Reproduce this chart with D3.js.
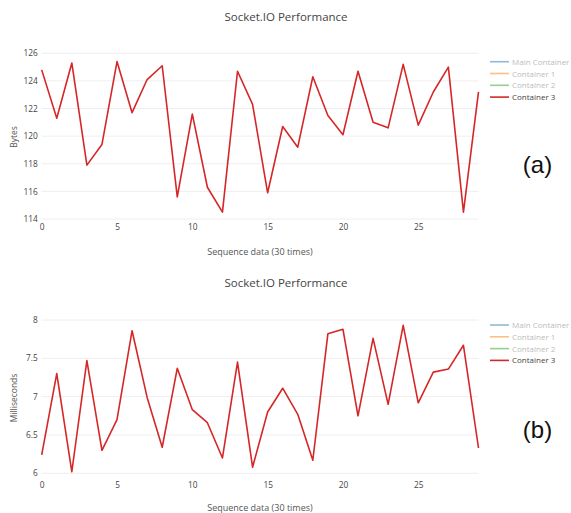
<!DOCTYPE html>
<html>
<head>
<meta charset="utf-8">
<script src="https://cdn.jsdelivr.net/npm/d3@7"></script>
<style>
  html, body { margin: 0; padding: 0; background: #fff; }
  svg { display: block; font-family: "Open Sans", "DejaVu Sans", sans-serif; }
</style>
</head>
<body>
<svg id="chart" width="571" height="513"></svg>
<script>
// ---------- data ----------
const sequence = [0,1,2,3,4,5,6,7,8,9,10,11,12,13,14,15,16,17,18,19,20,21,22,23,24,25,26,27,28,29];
const bytesContainer3 = [124.8,121.3,125.3,117.9,119.4,125.4,121.7,124.1,125.1,115.6,
                         121.6,116.3,114.5,124.7,122.3,115.9,120.7,119.2,124.3,121.5,
                         120.1,124.7,121.0,120.6,125.2,120.8,123.2,125.0,114.5,123.2];
const msContainer3 = [6.24,7.30,6.02,7.47,6.30,6.70,7.86,6.99,6.34,7.37,
                      6.83,6.66,6.20,7.45,6.08,6.80,7.11,6.77,6.17,7.82,
                      7.88,6.75,7.76,6.90,7.93,6.92,7.32,7.36,7.67,6.33];
const seriesNames = ["Main Container", "Container 1", "Container 2", "Container 3"];
const seriesColors = ["#1f77b4", "#ff7f0e", "#2ca02c", "#d62728"];
const seriesVisible = [false, false, false, true];
const xTicks = [0, 5, 10, 15, 20, 25];
const bytesTicks = [114, 116, 118, 120, 122, 124, 126];
const msTicks = [6, 6.5, 7, 7.5, 8];
const chartTitle = "Socket.IO Performance";
const xTitle = "Sequence data (30 times)";
const panelLabels = ["(a)", "(b)"];

const svg = d3.select("#chart");

function drawPanel(o) {
  const g = svg.append("g");
  const x = d3.scaleLinear().domain([0, 29]).range([41.7, 478.5]);
  const y = d3.scaleLinear().domain(o.yDomain).range(o.yRange);

  // gridlines
  g.append("g").selectAll("line").data(o.yTicks).join("line")
    .attr("x1", x(0)).attr("x2", x(29))
    .attr("y1", d => y(d)).attr("y2", d => y(d))
    .attr("stroke", "#eeeeee").attr("stroke-width", 1);

  // y axis
  const yAxis = d3.axisLeft(y).tickValues(o.yTicks).tickSize(0).tickPadding(0)
    .tickFormat(d3.format("~g"));
  const ya = g.append("g").attr("transform", `translate(${x(0) - 4},0)`).call(yAxis);
  ya.select(".domain").remove();
  ya.selectAll("text").attr("fill", "#444").style("font-size", "8.3px")
    .style("font-family", "'Open Sans', sans-serif");

  // x axis
  const xAxis = d3.axisBottom(x).tickValues(xTicks).tickSize(0).tickPadding(0);
  const xa = g.append("g").attr("transform", `translate(0,${o.xTickY})`).call(xAxis);
  xa.select(".domain").remove();
  xa.selectAll("text").attr("fill", "#444").style("font-size", "8.3px")
    .style("font-family", "'Open Sans', sans-serif");

  // line
  const line = d3.line().x((d, i) => x(sequence[i])).y(d => y(d));
  g.append("path").datum(o.values)
    .attr("d", line)
    .attr("fill", "none")
    .attr("stroke", seriesColors[3])
    .attr("stroke-width", 1.6)
    .attr("stroke-linejoin", "round");

  // title
  g.append("text").attr("x", 286).attr("y", o.titleY)
    .attr("text-anchor", "middle").attr("fill", "#444")
    .style("font-size", "11.5px").text(chartTitle);

  // axis titles
  g.append("text").attr("x", 260).attr("y", o.xTitleY)
    .attr("text-anchor", "middle").attr("fill", "#555")
    .style("font-size", "9px").text(xTitle);
  g.append("text")
    .attr("transform", `translate(17,${o.yTitleCY}) rotate(-90)`)
    .attr("text-anchor", "middle").attr("fill", "#555")
    .style("font-size", "8.5px").text(o.yTitle);

  // legend
  const lg = g.append("g").selectAll("g").data(seriesNames).join("g")
    .attr("transform", (d, i) => `translate(490,${o.legendY + i * 11.8})`)
    .attr("opacity", (d, i) => seriesVisible[i] ? 1 : 0.5);
  lg.append("line").attr("x1", 0).attr("x2", 19).attr("y1", 0).attr("y2", 0)
    .attr("stroke", (d, i) => seriesColors[i]).attr("stroke-width", 1.6);
  lg.append("text").attr("x", 22).attr("y", 3)
    .attr("fill", (d, i) => seriesVisible[i] ? "#444" : "#777")
    .style("font-size", "8px").text(d => d);

  // panel label
  g.append("text").attr("x", 537.5).attr("y", o.labelY)
    .attr("text-anchor", "middle").attr("fill", "#111")
    .style("font-size", "24px").style("font-weight", "400")
    .style("font-family", "'Liberation Sans', 'DejaVu Sans', sans-serif")
    .text(o.label);
}

drawPanel({
  values: bytesContainer3, yDomain: [114, 126], yRange: [219, 53.3], yTicks: bytesTicks,
  xTickY: 224, titleY: 21, xTitleY: 255, yTitle: "Bytes", yTitleCY: 137,
  legendY: 61.7, labelY: 173, label: panelLabels[0]
});
drawPanel({
  values: msContainer3, yDomain: [6, 8], yRange: [473.3, 320], yTicks: msTicks,
  xTickY: 482, titleY: 286.5, xTitleY: 511, yTitle: "Milliseconds", yTitleCY: 398,
  legendY: 325, labelY: 438, label: panelLabels[1]
});
</script>
</body>
</html>
